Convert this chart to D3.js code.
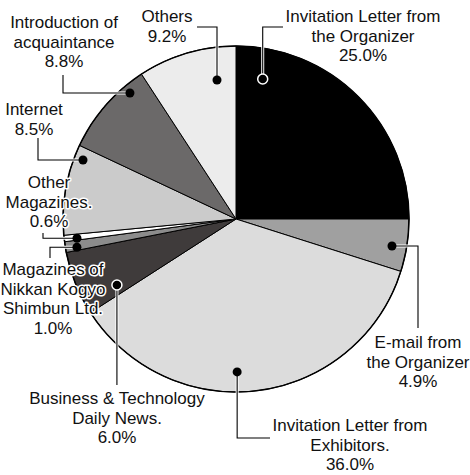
<!DOCTYPE html>
<html>
<head>
    <meta charset="utf-8" />
    <script src="https://cdn.jsdelivr.net/npm/d3@7"></script>
    <style>
        body { margin: 0; background: #fff; }
        text {
            font-family: "Liberation Sans", Arial, sans-serif;
            font-size: 17px;
            fill: #111;
        }
    </style>
</head>
<body>
    <script>
        // data, clockwise from 12 o'clock
        var categories = [
            ["Invitation Letter from", "the Organizer"],
            ["E-mail from", "the Organizer"],
            ["Invitation Letter from", "Exhibitors."],
            ["Business & Technology", "Daily News."],
            ["Magazines of", "Nikkan Kogyo", "Shimbun Ltd."],
            ["Other", "Magazines."],
            ["Internet"],
            ["Introduction of", "acquaintance"],
            ["Others"]
        ];
        var values = [25.0, 4.9, 36.0, 6.0, 1.0, 0.6, 8.5, 8.8, 9.2];

        var colors = ["#000000", "#a0a0a0", "#dcdcdc", "#3f3b3b", "#8c8c8c",
            "#ffffff", "#cbcbcb", "#6b6969", "#ececec"];

        // where the marker sits inside each slice: [fraction of angle, fraction of radius, hollow]
        var markers = [[0.12, 0.824, true], [0.556, 0.915, false], [0.555, 0.884, false],
            [0.174, 0.787, true], [0.3, 0.934, false], [0.3, 0.926, false],
            [0.866, 0.948, false], [0.78, 0.952, false], [0.765, 0.811, false]];

        // leader: first leg "v" (vertical) or "h" (horizontal), then the end point
        var leaders = [["v", 283, 27], ["h", 418, 328], ["v", 270, 438], ["v", null, 385],
            ["h", 50, 258], ["h", 43, 233], ["h", 38, 138], ["h", 63, 75], ["v", 197, 27]];

        // label centre x and first baseline
        var labelPos = [[363, 22], [418, 348], [350, 431], [117, 404], [53, 275],
            [49, 188], [34, 115], [64, 28], [167, 22]];

        var width = 470,
            height = 475,
            cx = 236,
            cy = 219,
            radius = 173,
            lineH = 19.7;

        var fmt = d3.format(".1f");

        var svg = d3.select("body").append("svg")
            .attr("width", width)
            .attr("height", height);

        var pie = d3.pie().sort(null).value(function (d) { return d; });
        var arcs = pie(values);

        var arc = d3.arc().innerRadius(0).outerRadius(radius);

        var g = svg.append("g")
            .attr("transform", "translate(" + cx + "," + cy + ")");

        g.selectAll("path.slice")
            .data(arcs)
            .enter().append("path")
            .attr("class", "slice")
            .attr("d", arc)
            .attr("fill", function (d, i) { return colors[i]; })
            .attr("stroke", "#000")
            .attr("stroke-width", 1)
            .attr("stroke-linejoin", "round");

        g.append("circle")
            .attr("r", radius)
            .attr("fill", "none")
            .attr("stroke", "#000")
            .attr("stroke-width", 1.5);

        function markerPoint(d, i) {
            var m = markers[i];
            var a = d.startAngle + (d.endAngle - d.startAngle) * m[0];
            var r = radius * m[1];
            return [cx + r * Math.sin(a), cy - r * Math.cos(a)];
        }

        var points = arcs.map(markerPoint);

        function leaderPath(i) {
            var p = points[i], l = leaders[i];
            var ex = l[1] == null ? p[0] : l[1];
            if (l[0] === "v") {
                return "M" + p[0] + "," + p[1] + "V" + l[2] + "H" + ex;
            }
            return "M" + p[0] + "," + p[1] + "H" + ex + "V" + l[2];
        }

        var lead = svg.append("g");
        lead.selectAll("path.halo")
            .data(arcs)
            .enter().append("path")
            .attr("d", function (d, i) { return leaderPath(i); })
            .attr("fill", "none")
            .attr("stroke", "#fff")
            .attr("stroke-width", 3);
        lead.selectAll("path.line")
            .data(arcs)
            .enter().append("path")
            .attr("d", function (d, i) { return leaderPath(i); })
            .attr("fill", "none")
            .attr("stroke", "#000")
            .attr("stroke-width", 1.1);

        lead.selectAll("circle")
            .data(arcs)
            .enter().append("circle")
            .attr("cx", function (d, i) { return points[i][0]; })
            .attr("cy", function (d, i) { return points[i][1]; })
            .attr("r", function (d, i) { return markers[i][2] ? 5 : 4.5; })
            .attr("fill", "#000")
            .attr("stroke", function (d, i) { return markers[i][2] ? "#fff" : "none"; })
            .attr("stroke-width", 1.5);

        var labels = svg.append("g");
        categories.forEach(function (lines, i) {
            var all = lines.concat([fmt(values[i]) + "%"]);
            var t = labels.append("text")
                .attr("text-anchor", "middle")
                .attr("stroke", "#fff")
                .attr("stroke-width", 3)
                .attr("stroke-linejoin", "round")
                .attr("paint-order", "stroke");
            all.forEach(function (s, k) {
                t.append("tspan")
                    .attr("x", labelPos[i][0])
                    .attr("y", labelPos[i][1] + k * lineH)
                    .text(s);
            });
        });
    </script>
</body>
</html>
